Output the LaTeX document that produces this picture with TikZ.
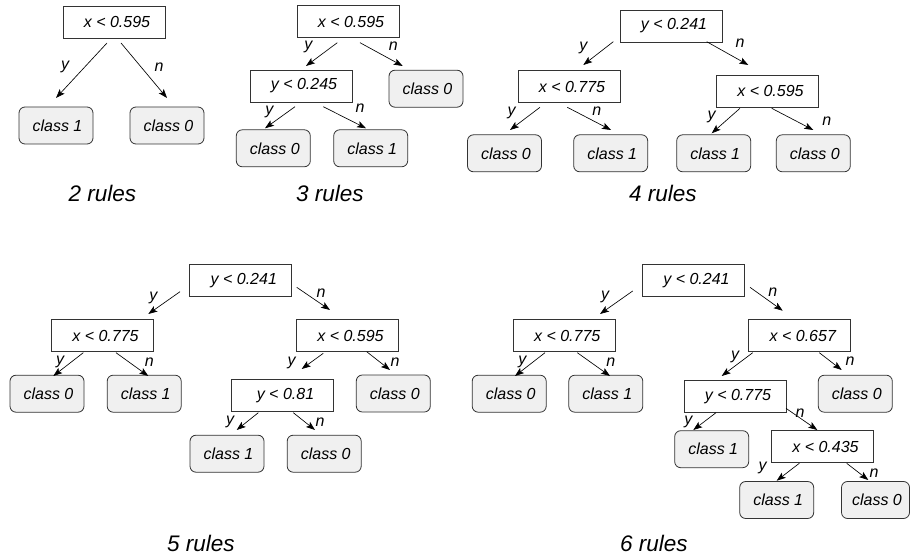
\documentclass[tikz,border=0pt]{standalone}
\usepackage{fontspec}
\setmainfont{Liberation Sans}
\usetikzlibrary{arrows.meta,calc}
\newcommand\mynodefont{\fontsize{16}{19}\selectfont\itshape}
\newcommand\mycapfont{\fontsize{22.5}{25}\selectfont\itshape}
\tikzset{
  dec/.style={draw=black!80, line width=0.8pt, minimum width=102pt, minimum height=32pt,
    inner sep=0pt, font=\mynodefont, execute at begin node={\hspace*{6pt}}},
  cls/.style={draw=black!80, line width=0.8pt, fill=black!6, rounded corners=6pt,
    minimum width=74pt, minimum height=37pt, inner sep=0pt, font=\mynodefont,
    execute at begin node={\hspace*{3pt}}},
  arr/.style={-{Stealth[length=9pt,width=6.5pt,inset=2pt]}, line width=0.65pt},
  lbl/.style={font=\mynodefont, inner sep=0pt},
  captxt/.style={font=\mycapfont, inner sep=0pt}
}
\begin{document}
\begin{tikzpicture}[x=1pt,y=-1pt]
\useasboundingbox (0,0) rectangle (911,556);
% ---------------- 2 rules
\node[dec] (r1) at (114,22) {x < 0.595};
\node[cls] (c1a) at (56,125.5) {class 1};
\node[cls] (c1b) at (167,125.5) {class 0};
\draw[arr] ($(r1)+(-7,21)$) -- ($(c1a)+(0,-27.5)$);
\draw[arr] ($(r1)+(7,21)$) -- ($(c1b)+(0,-27.5)$);
\node[lbl] (l1y) at (65,67) {y};
\node[lbl] (l1n) at (159,67) {n};
\node[captxt] (t1) at (102.5,193) {2 rules};
% ---------------- 3 rules
\node[dec] (r2) at (348,21.5) {x < 0.595};
\node[dec] (d2) at (301,86) {y < 0.245};
\node[cls] (c2a) at (426,88.7) {class 0};
\node[cls] (c2b) at (273.3,148.3) {class 0};
\node[cls] (c2c) at (370.7,148.3) {class 1};
\draw[arr] ($(r2)+(-10.7,21.2)$) -- ($(d2)+(5,-20)$);
\draw[arr] ($(r2)+(12,21.2)$) -- ($(c2a)+(-23.3,-22.7)$);
\draw[arr] ($(d2)+(-6,20.7)$) -- ($(c2b)+(-8.3,-20)$);
\draw[arr] ($(d2)+(22.3,20.7)$) -- ($(c2c)+(-4.7,-20)$);
\node[lbl] (l2y) at (308.3,46.7) {y};
\node[lbl] (l2n) at (393.3,46.7) {n};
\node[lbl] (l2y2) at (269.3,111.7) {y};
\node[lbl] (l2n2) at (360,108.3) {n};
\node[captxt] (t2) at (330,193) {3 rules};
% ---------------- 4 rules
\node[dec] (r3) at (671,26) {y < 0.241};
\node[dec] (d3a) at (569,86.5) {x < 0.775};
\node[dec] (d3b) at (767.5,91) {x < 0.595};
\node[cls] (c3a) at (504.5,153.3) {class 0};
\node[cls] (c3b) at (610.7,153.3) {class 1};
\node[cls] (c3c) at (713.7,153.3) {class 1};
\node[cls] (c3d) at (813.3,153.3) {class 0};
\draw[arr] ($(r3)+(-57.7,15.7)$) -- ($(d3a)+(14.3,-21.5)$);
\draw[arr] ($(r3)+(35.7,15.7)$) -- ($(d3b)+(-19.2,-26)$);
\draw[arr] ($(d3a)+(-29,20.8)$) -- ($(c3a)+(5.5,-23.3)$);
\draw[arr] ($(d3a)+(-1.7,20.8)$) -- ($(c3b)+(0.3,-23.3)$);
\draw[arr] ($(d3b)+(-27.5,17.3)$) -- ($(c3c)+(-2,-20)$);
\draw[arr] ($(d3b)+(4.2,17.3)$) -- ($(c3d)+(0,-23.3)$);
\node[lbl] (l3y) at (583.3,48.3) {y};
\node[lbl] (l3n) at (740,43.3) {n};
\node[lbl] (l3y2) at (511.7,113.3) {y};
\node[lbl] (l3n2) at (596.7,111.7) {n};
\node[lbl] (l3y3) at (711.7,116.7) {y};
\node[lbl] (l3n3) at (826.7,121.7) {n};
\node[captxt] (t3) at (663,193) {4 rules};
% ---------------- 5 rules
\node[dec] (r4) at (240.8,280.5) {y < 0.241};
\node[dec] (d4a) at (102.5,335.8) {x < 0.775};
\node[dec] (d4b) at (347.5,335.8) {x < 0.595};
\node[cls] (c4a) at (47,393.7) {class 0};
\node[cls] (c4b) at (144.2,393.7) {class 1};
\node[dec] (d4c) at (282.5,395.8) {y < 0.81};
\node[cls] (c4c) at (393.3,393.5) {class 0};
\node[cls] (c4d) at (227,453.7) {class 1};
\node[cls] (c4e) at (324.2,453.7) {class 0};
\draw[arr] ($(r4)+(-60.8,11.2)$) -- ($(d4a)+(45.8,-21.8)$);
\draw[arr] ($(r4)+(55.9,6.8)$) -- ($(d4b)+(-17.5,-25.8)$);
\draw[arr] ($(d4a)+(-19.2,16.9)$) -- ($(c4a)+(6.3,-17.7)$);
\draw[arr] ($(d4a)+(13.5,16.9)$) -- ($(c4b)+(4.1,-17.7)$);
\draw[arr] ($(d4b)+(-24.2,17.5)$) -- ($(d4c)+(19.2,-26.8)$);
\draw[arr] ($(d4b)+(19.2,15.9)$) -- ($(c4c)+(-3.3,-23.5)$);
\draw[arr] ($(d4c)+(-24.2,16.9)$) -- ($(c4d)+(9.7,-23.7)$);
\draw[arr] ($(d4c)+(10.8,16.9)$) -- ($(c4e)+(-9.2,-23.7)$);
\node[lbl] (l4y) at (153.3,298.3) {y};
\node[lbl] (l4n) at (321,292.7) {n};
\node[lbl] (l4y2) at (60,361.7) {y};
\node[lbl] (l4n2) at (149.3,361.7) {n};
\node[lbl] (l4y3) at (291.7,363.3) {y};
\node[lbl] (l4n3) at (395,361.7) {n};
\node[lbl] (l4y4) at (230,421.7) {y};
\node[lbl] (l4n4) at (320,421.7) {n};
\node[captxt] (t4) at (201,543) {5 rules};
% ---------------- 6 rules
\node[dec] (r5) at (693.5,280.5) {y < 0.241};
\node[dec] (d5a) at (564.2,335.8) {x < 0.775};
\node[dec] (d5b) at (799.8,335.8) {x < 0.657};
\node[cls] (c5a) at (509.2,393.7) {class 0};
\node[cls] (c5b) at (605.8,393.7) {class 1};
\node[cls] (c5c) at (855.3,393.7) {class 0};
\node[dec] (d5c) at (735,396.2) {y < 0.775};
\node[cls] (c5d) at (711.7,449.2) {class 1};
\node[dec] (d5d) at (822.5,446.7) {x < 0.435};
\node[cls] (c5e) at (776.7,500) {class 1};
\node[cls, minimum width=68pt] (c5f) at (875.5,500) {class 0};
\draw[arr] ($(r5)+(-60.8,10.5)$) -- ($(d5a)+(35.8,-21.8)$);
\draw[arr] ($(r5)+(56.5,6.8)$) -- ($(d5b)+(-17.1,-25.1)$);
\draw[arr] ($(d5a)+(-19.2,16.9)$) -- ($(c5a)+(5.8,-17.7)$);
\draw[arr] ($(d5a)+(13.1,16.9)$) -- ($(c5b)+(4.2,-17.7)$);
\draw[arr] ($(d5b)+(-47.1,16.9)$) -- ($(d5c)+(-13.3,-20.2)$);
\draw[arr] ($(d5b)+(19.5,16.9)$) -- ($(c5c)+(-13.6,-23.7)$);
\draw[arr] ($(d5c)+(-19,16.5)$) -- ($(c5d)+(-18.4,-19.2)$);
\draw[arr] ($(d5c)+(51,12.1)$) -- ($(d5d)+(-5.2,-16.7)$);
\draw[arr] ($(d5d)+(-23.2,16.6)$) -- ($(c5e)+(0,-19.3)$);
\draw[arr] ($(d5d)+(24.2,16.6)$) -- ($(c5f)+(-7.2,-20)$);
\node[lbl] (l5y) at (605,297.3) {y};
\node[lbl] (l5n) at (772.7,291.7) {n};
\node[lbl] (l5y2) at (522.3,361.7) {y};
\node[lbl] (l5n2) at (610.7,361.7) {n};
\node[lbl] (l5y3) at (735,357.3) {y};
\node[lbl] (l5n3) at (850,361) {n};
\node[lbl] (l5y4) at (688.3,421.7) {y};
\node[lbl] (l5n4) at (800,412.7) {n};
\node[lbl] (l5y5) at (762.7,468.3) {y};
\node[lbl] (l5n5) at (874,472.7) {n};
\node[captxt] (t5) at (654,543) {6 rules};
\end{tikzpicture}
\end{document}
